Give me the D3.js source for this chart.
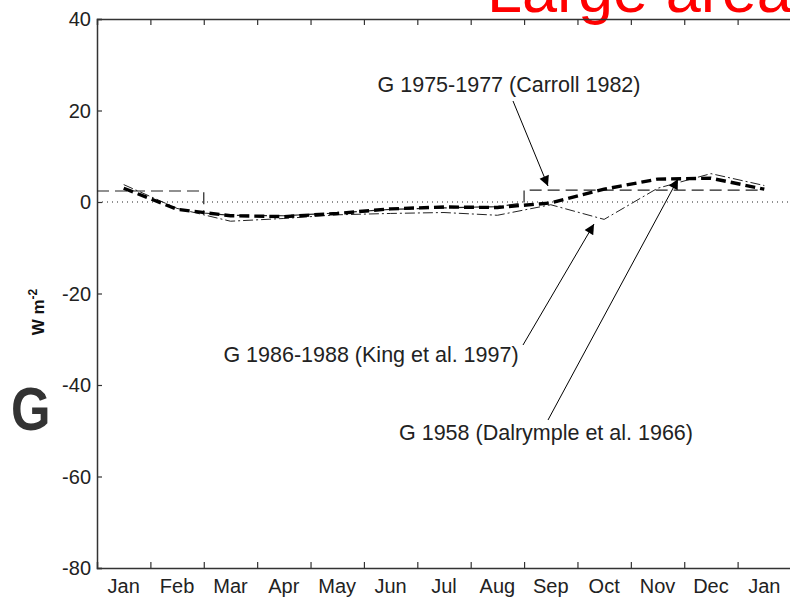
<!DOCTYPE html>
<html>
<head>
<meta charset="utf-8">
<script src="https://cdn.jsdelivr.net/npm/d3@7"></script>
<style>
  html, body { margin: 0; padding: 0; background: #fff; }
  svg { display: block; }
  text { font-family: "Liberation Sans", Arial, sans-serif; }
</style>
</head>
<body>
<svg id="chart" width="790" height="600"></svg>
<script>
// Month labels, centred in each monthly band (Jan .. following Jan)
const months = ["Jan", "Feb", "Mar", "Apr", "May", "Jun", "Jul", "Aug", "Sep", "Oct", "Nov", "Dec", "Jan"];
const yTicks = [40, 20, 0, -20, -40, -60, -80];

// Monthly centres for the gridded series
const monthPos = [0.5, 1.5, 2.5, 3.5, 4.5, 5.5, 6.5, 7.5, 8.5, 9.5, 10.5, 11.5, 12.5];

// G 1958 (Dalrymple et al. 1966), W m-2
const dalrympleG = [3.0, -1.6, -3.0, -3.2, -2.5, -1.5, -1.1, -1.2, -0.2, 2.8, 5.0, 5.2, 2.8];
// G 1986-1988 (King et al. 1997), W m-2
const kingG = [3.8, -1.4, -4.2, -3.6, -2.8, -2.5, -2.3, -2.9, -0.6, -3.8, 3.0, 6.2, 3.6];
// G 1975-1977 (Carroll 1982): seasonal winter value plus monthly Mar-Aug values
const carrollX = [0, 2, 2, 2.5, 3.5, 4.5, 5.5, 6.5, 7.5, 8, 8, 12.4];
const carrollG = [2.4, 2.4, -2.4, -2.9, -3.0, -2.4, -1.6, -1.3, -1.0, -0.2, 2.6, 2.6];

const svg = d3.select("#chart");
const x = d3.scaleLinear().domain([0, 13]).range([97, 791]);
const y = d3.scaleLinear().domain([-80, 40]).range([568, 19]);

const axisColor = "#333";

// Title (partly outside the frame)
svg.append("text")
  .attr("x", 487).attr("y", 12)
  .attr("fill", "#ff0000")
  .attr("font-family", "DejaVu Sans, sans-serif")
  .attr("font-size", 63)
  .text("Large area");

// Panel letter
svg.append("text")
  .attr("transform", "translate(11,430) scale(0.82,1)")
  .attr("fill", "#333")
  .attr("font-family", "DejaVu Sans Condensed, DejaVu Sans, sans-serif")
  .attr("font-weight", "bold")
  .attr("font-size", 62)
  .text("G");

// Zero reference line
svg.append("line")
  .attr("x1", x(0)).attr("x2", x(13))
  .attr("y1", y(0)).attr("y2", y(0))
  .attr("stroke", "#222").attr("stroke-width", 1)
  .attr("stroke-dasharray", "1,4");

// Axes
const axisBottomG = svg.append("g").attr("transform", `translate(0,${y(-80)})`)
  .call(d3.axisTop(x).tickValues(d3.range(1, 13)).tickSize(6).tickFormat(""));
const axisTopG = svg.append("g").attr("transform", `translate(0,${y(40)})`)
  .call(d3.axisBottom(x).tickValues(d3.range(1, 13)).tickSize(6).tickFormat(""));
const axisLeftG = svg.append("g").attr("transform", `translate(${x(0)},0)`)
  .call(d3.axisRight(y).tickValues(yTicks).tickSize(5).tickFormat(""));
[axisBottomG, axisTopG, axisLeftG].forEach(g => {
  g.select(".domain").attr("stroke", axisColor).attr("stroke-width", 1.5);
  g.selectAll(".tick line").attr("stroke", axisColor).attr("stroke-width", 1.2);
});

// Tick labels
svg.append("g").selectAll("text").data(yTicks).join("text")
  .attr("x", 91).attr("y", d => y(d) + 7)
  .attr("text-anchor", "end")
  .attr("font-size", 20).attr("fill", "#222")
  .text(d => d);
svg.append("g").selectAll("text").data(months).join("text")
  .attr("x", (d, i) => x(i + 0.5)).attr("y", 593)
  .attr("text-anchor", "middle")
  .attr("font-size", 20).attr("fill", "#222")
  .text(d => d);

// Y axis title
const yt = svg.append("text")
  .attr("transform", "translate(44,312) rotate(-90)")
  .attr("text-anchor", "middle")
  .attr("font-size", 17).attr("font-weight", "bold").attr("fill", "#111");
yt.append("tspan").text("W m");
yt.append("tspan").attr("dy", -7).attr("font-size", 12).text("-2");

// Series
const line = d3.line().x(d => x(d[0])).y(d => y(d[1]));

svg.append("path")
  .attr("d", line(d3.zip(carrollX, carrollG)))
  .attr("fill", "none").attr("stroke", "#222").attr("stroke-width", 1.2)
  .attr("stroke-dasharray", "12,6");

svg.append("path")
  .attr("d", line(d3.zip(monthPos, kingG)))
  .attr("fill", "none").attr("stroke", "#222").attr("stroke-width", 1)
  .attr("stroke-dasharray", "10,3,2,3");

svg.append("path")
  .attr("d", line(d3.zip(monthPos, dalrympleG)))
  .attr("fill", "none").attr("stroke", "#000").attr("stroke-width", 3.4)
  .attr("stroke-dasharray", "10,5");

// Annotations with arrows
svg.append("defs").append("marker")
  .attr("id", "head").attr("viewBox", "0 0 10 10")
  .attr("refX", 10).attr("refY", 5)
  .attr("markerWidth", 14).attr("markerHeight", 10)
  .attr("markerUnits", "userSpaceOnUse")
  .attr("orient", "auto")
  .append("path").attr("d", "M0,0 L10,5 L0,10 Z").attr("fill", "#000");

const notes = [
  { text: "G 1975-1977 (Carroll 1982)", tx: 509, ty: 92, x1: 513, y1: 101, x2: 548, y2: 186 },
  { text: "G 1986-1988 (King et al. 1997)", tx: 371, ty: 362, x1: 523, y1: 345, x2: 594, y2: 224 },
  { text: "G 1958 (Dalrymple et al. 1966)", tx: 546, ty: 440, x1: 548, y1: 420, x2: 678, y2: 179 }
];
svg.append("g").selectAll("line").data(notes).join("line")
  .attr("x1", d => d.x1).attr("y1", d => d.y1)
  .attr("x2", d => d.x2).attr("y2", d => d.y2)
  .attr("stroke", "#000").attr("stroke-width", 1)
  .attr("marker-end", "url(#head)");
svg.append("g").selectAll("text").data(notes).join("text")
  .attr("x", d => d.tx).attr("y", d => d.ty)
  .attr("text-anchor", "middle")
  .attr("font-size", 21.5).attr("fill", "#222")
  .text(d => d.text);
</script>
</body>
</html>
